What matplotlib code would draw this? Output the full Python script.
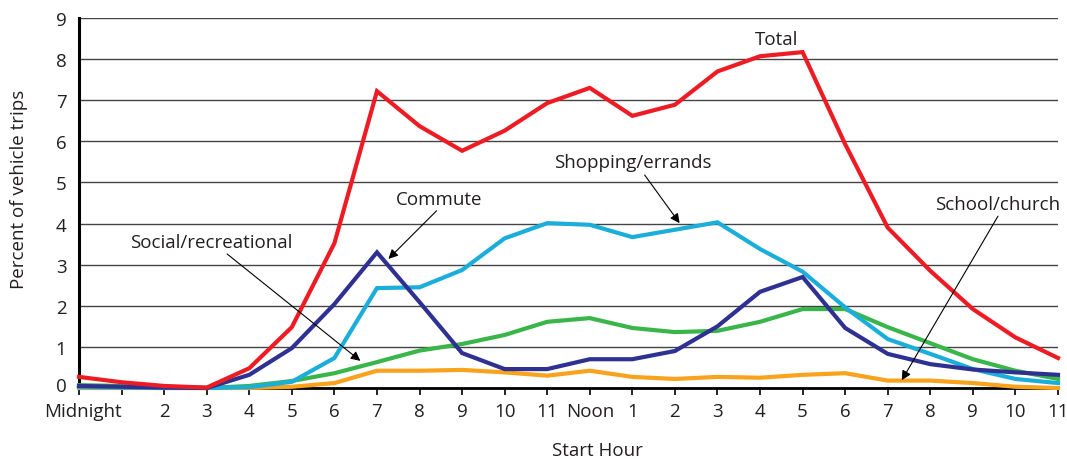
import matplotlib
matplotlib.use("Agg")
import matplotlib.pyplot as plt
from matplotlib.transforms import ScaledTranslation

plt.rcParams['font.family'] = ['Open Sans', 'DejaVu Sans']

hours = list(range(24))
hour_labels = ['Midnight', '', '2', '3', '4', '5', '6', '7', '8', '9', '10', '11',
               'Noon', '1', '2', '3', '4', '5', '6', '7', '8', '9', '10', '11']

total = [0.27, 0.14, 0.05, 0.01, 0.48, 1.48, 3.52, 7.22, 6.37, 5.77, 6.26, 6.93,
         7.30, 6.62, 6.89, 7.70, 8.07, 8.17, 5.93, 3.90, 2.85, 1.92, 1.23, 0.73]
commute = [0.05, 0.03, 0.01, 0.0, 0.32, 0.97, 2.04, 3.30, 2.09, 0.85, 0.46, 0.46,
           0.70, 0.70, 0.90, 1.50, 2.34, 2.70, 1.46, 0.83, 0.58, 0.45, 0.38, 0.32]
shopping = [0.02, 0.01, 0.0, 0.0, 0.02, 0.15, 0.73, 2.43, 2.45, 2.87, 3.64, 4.01,
            3.97, 3.67, 3.85, 4.03, 3.38, 2.83, 1.96, 1.19, 0.83, 0.46, 0.22, 0.12]
social = [0.07, 0.05, 0.02, 0.0, 0.05, 0.17, 0.36, 0.63, 0.91, 1.07, 1.29, 1.61,
          1.70, 1.46, 1.36, 1.39, 1.61, 1.92, 1.92, 1.48, 1.09, 0.70, 0.42, 0.22]
school = [0.0, 0.0, 0.0, 0.0, 0.0, 0.03, 0.12, 0.42, 0.42, 0.44, 0.38, 0.30,
          0.42, 0.27, 0.22, 0.27, 0.25, 0.32, 0.36, 0.18, 0.18, 0.12, 0.03, 0.0]

W, H = 1067, 460
fig = plt.figure(figsize=(W / 100, H / 100), dpi=100)
ax = fig.add_axes([79 / W, (H - 389) / H, (1058 - 79) / W, (389 - 19) / H])

txt = '#231F20'
lw = 3.0
ax.plot(hours, school, color='#F9A21B', lw=lw, clip_on=False, zorder=3, solid_joinstyle='miter')
ax.plot(hours, social, color='#39B54A', lw=lw, clip_on=False, zorder=4, solid_joinstyle='miter')
ax.plot(hours, shopping, color='#1BAEDB', lw=lw, clip_on=False, zorder=5, solid_joinstyle='miter')
ax.plot(hours, commute, color='#2E3192', lw=lw, clip_on=False, zorder=6, solid_joinstyle='miter')
ax.plot(hours, total, color='#ED1C24', lw=lw, clip_on=False, zorder=7, solid_joinstyle='miter')

fs = 13.5
ax.set_xlim(0, 23)
ax.set_ylim(0, 9)
ax.set_yticks(range(10))
ax.set_xticks(hours)
ax.set_xticklabels(hour_labels)
ax.yaxis.grid(True, color='#444444', lw=1.0)
ax.set_axisbelow(True)
for s in ['top', 'right']:
    ax.spines[s].set_visible(False)
ax.spines['left'].set_linewidth(2.2)
ax.spines['bottom'].set_linewidth(2.0)
ax.spines['left'].set_color('black')
ax.spines['bottom'].set_color('black')
ax.tick_params(axis='y', length=0, pad=9, labelsize=fs, labelcolor=txt)
ax.tick_params(axis='x', length=5, width=1.2, direction='out', pad=5, labelsize=fs, labelcolor=txt)

ylabs = ax.get_yticklabels()
ylabs[0].set_transform(ylabs[0].get_transform() + ScaledTranslation(0, 4 / 100, fig.dpi_scale_trans))
xlabs = ax.get_xticklabels()
xlabs[0].set_transform(xlabs[0].get_transform() + ScaledTranslation(4 / 100, 0, fig.dpi_scale_trans))

ax.text(16.39, 8.37, 'Total', ha='center', va='baseline', fontsize=fs, color=txt)
ax.text(8.45, 4.48, 'Commute', ha='center', va='baseline', fontsize=fs, color=txt)
ax.text(13.0, 5.38, 'Shopping/errands', ha='center', va='baseline', fontsize=fs, color=txt)
ax.text(3.10, 3.43, 'Social/recreational', ha='center', va='baseline', fontsize=fs, color=txt)
ax.text(21.59, 4.36, 'School/church', ha='center', va='baseline', fontsize=fs, color=txt)

arrow = dict(arrowstyle='-|>', lw=0.8, color='black', mutation_scale=14, shrinkA=0, shrinkB=0)
ax.annotate('', xy=(7.27, 3.14), xytext=(8.40, 4.31), arrowprops=arrow, zorder=10)
ax.annotate('', xy=(14.11, 4.01), xytext=(13.29, 5.18), arrowprops=arrow, zorder=10)
ax.annotate('', xy=(6.61, 0.66), xytext=(3.48, 3.26), arrowprops=arrow, zorder=10)
ax.annotate('', xy=(19.33, 0.19), xytext=(21.59, 4.18), arrowprops=arrow, zorder=10)

fig.text(19 / W, 1 - 189 / H, 'Percent of vehicle trips', rotation=90, ha='center', va='center',
         fontsize=fs, color=txt)
fig.text(597 / W, 1 - 456 / H, 'Start Hour', ha='center', va='baseline', fontsize=fs, color=txt)

fig.savefig('out.png', dpi=100)
